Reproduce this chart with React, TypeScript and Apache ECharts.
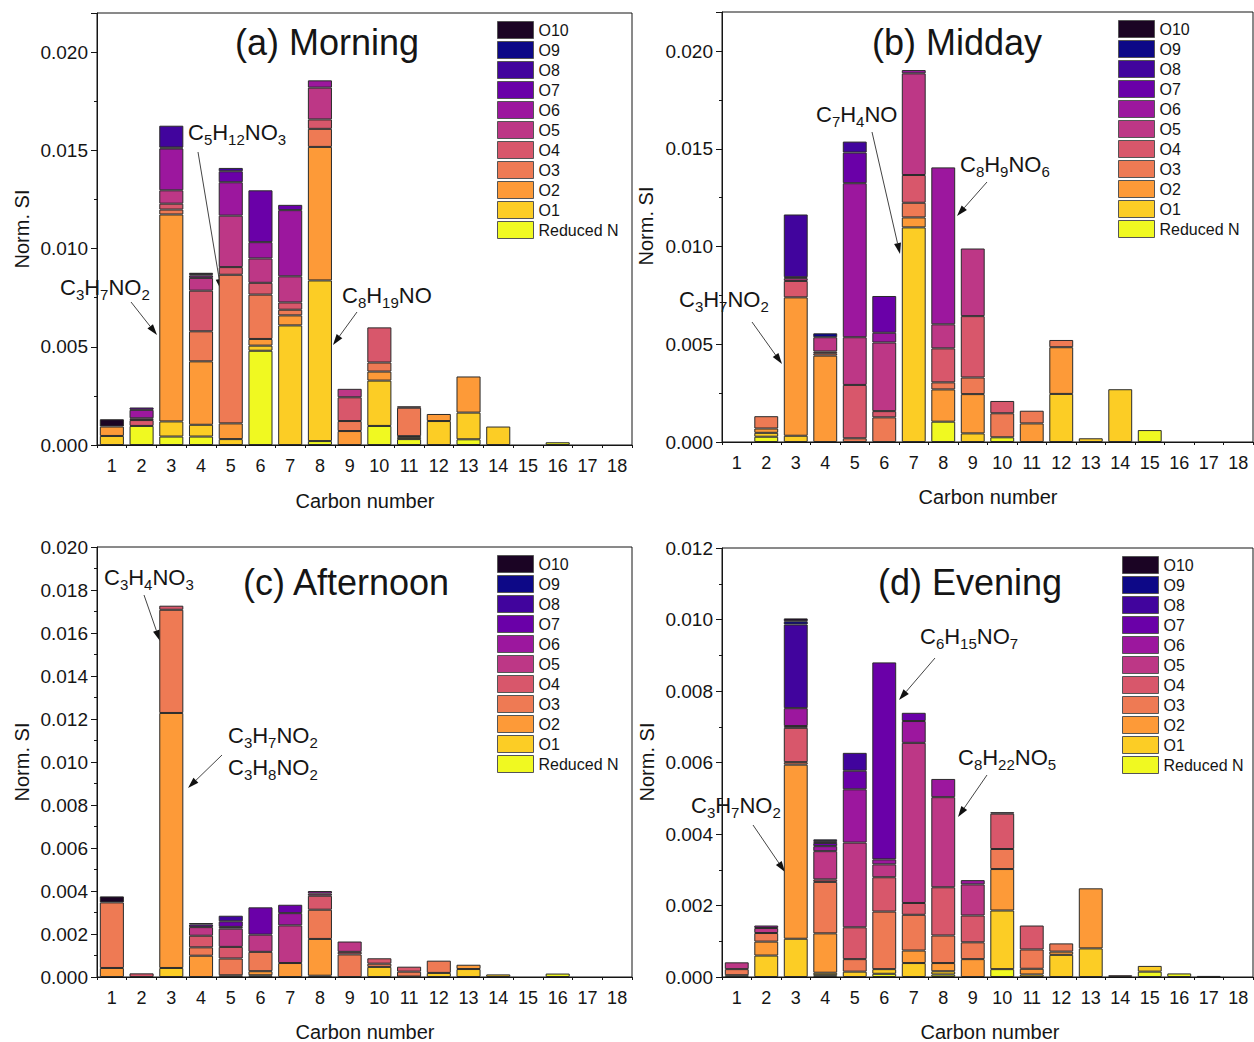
import React, { useEffect, useRef } from 'react';
import * as echarts from 'echarts';

const carbonNumbers = ['1','2','3','4','5','6','7','8','9','10','11','12','13','14','15','16','17','18'];
const seriesNames = ['Reduced N','O1','O2','O3','O4','O5','O6','O7','O8','O9','O10'];
const seriesColors = ['#f0f921','#fccd25','#fd9a38','#ee7a54','#d8576b','#bd3786','#9c179e','#6a00a8','#41049d','#0d0887','#1b0424'];

// (a) Morning
const morningRedN = [0,0.00097,0.00043,0.00043,0,0.0048,0,0.0002,0,0.00097,0.0003,0,0.00029,0,0,0.00014,0,0];
const morningO1 = [0.00046,0,0.00077,0.0006,0.0003,0.00026,0.00609,0.00818,0,0.00231,0.0001,0.00122,0.00136,0.00094,0,0,0,0];
const morningO2 = [0.00048,0,0.01054,0.00323,0.0008,0.00034,0.00051,0.0068,0.00071,0.00046,0.00005,0.00036,0.00184,0,0,0,0,0];
const morningO3 = [0,0,0.00025,0.00153,0.00757,0.00226,0.00029,0.00092,0.00051,0.00046,0.00145,0,0,0,0,0,0,0];
const morningO4 = [0,0.0003,0.0003,0.00207,0.00039,0.0006,0.00037,0.00048,0.00121,0.00179,0.00007,0,0,0,0,0,0,0];
const morningO5 = [0,0.00009,0.00068,0.00065,0.00262,0.00124,0.00133,0.00162,0.00043,0,0,0,0,0,0,0,0,0];
const morningO6 = [0,0.00043,0.00213,0.00012,0.0017,0.00083,0.00337,0.00037,0,0,0,0,0,0,0,0,0,0];
const morningO7 = [0,0.00012,0.00005,0.00007,0.00056,0.00264,0.00027,0,0,0,0,0,0,0,0,0,0,0];
const morningO8 = [0,0,0.00111,0,0.00017,0,0,0,0,0,0,0,0,0,0,0,0,0];
const morningO9 = [0,0,0,0,0,0,0,0,0,0,0,0,0,0,0,0,0,0];
const morningO10 = [0.00037,0,0,0.00007,0,0,0,0,0,0,0,0,0,0,0,0,0,0];

// (b) Midday
const middayRedN = [0,0.00027,0,0,0,0,0,0.00104,0,0.00024,0,0,0,0,0.00061,0,0,0];
const middayO1 = [0,0.0002,0.00032,0,0,0,0.01098,0,0.00044,0,0,0.00246,0.00019,0.0027,0,0,0,0];
const middayO2 = [0,0.00022,0.00708,0.00442,0,0,0.00051,0.00165,0.00201,0,0.00095,0.00239,0,0,0,0,0,0];
const middayO3 = [0,0.00063,0,0.00012,0.00019,0.00126,0.00075,0.00036,0.00085,0.00123,0.00065,0.00037,0,0,0,0,0,0];
const middayO4 = [0,0,0.00084,0.00009,0.00273,0.00032,0.00142,0.00174,0.00314,0.00063,0,0,0,0,0,0,0,0];
const middayO5 = [0,0,0.00014,0.00073,0.00244,0.00351,0.0052,0.00123,0.00346,0,0,0,0,0,0,0,0,0];
const middayO6 = [0,0,0.00005,0,0.00788,0.0005,0.00017,0.00803,0,0,0,0,0,0,0,0,0,0];
const middayO7 = [0,0,0,0,0.00157,0.00188,0,0,0,0,0,0,0,0,0,0,0,0];
const middayO8 = [0,0,0.00321,0,0.00056,0,0,0,0,0,0,0,0,0,0,0,0,0];
const middayO9 = [0,0,0,0.0002,0,0,0,0,0,0,0,0,0,0,0,0,0,0];
const middayO10 = [0,0,0,0,0,0,0,0,0,0,0,0,0,0,0,0,0,0];

// (c) Afternoon
const afternoonRedN = [0,0,0,0,0,0,0,0,0,0,0,0,0,0,0,0.00016,0,0];
const afternoonO1 = [0,0,0.00042,0,0,0.00008,0,0.00006,0,0.00047,0,0.00019,0.00037,0.00012,0,0,0,0];
const afternoonO2 = [0.00042,0,0.01186,0.00099,0.00008,0.00019,0.00065,0.00171,0,0,0.00002,0,0.0002,0,0,0,0,0];
const afternoonO3 = [0.00305,0,0.0048,0.00039,0.00078,0.0009,0,0.00136,0.00105,0.00015,0.00023,0.00057,0,0,0,0,0,0];
const afternoonO4 = [0,0.00017,0.00019,0.00054,0.00054,0,0,0.00065,0.00012,0.00025,0.00023,0,0,0,0,0,0,0];
const afternoonO5 = [0,0,0,0.0004,0.00085,0.0008,0.00175,0.0001,0.00048,0,0,0,0,0,0,0,0,0];
const afternoonO6 = [0,0,0,0,0.00008,0,0.00057,0.00012,0,0,0,0,0,0,0,0,0,0];
const afternoonO7 = [0,0,0,0.00012,0.00026,0.00127,0.00039,0,0,0,0,0,0,0,0,0,0,0];
const afternoonO8 = [0,0,0,0.00007,0.00026,0,0,0,0,0,0,0,0,0,0,0,0,0];
const afternoonO9 = [0,0,0,0,0,0,0,0,0,0,0,0,0,0,0,0,0,0];
const afternoonO10 = [0.00028,0,0,0,0,0,0,0,0,0,0,0,0,0,0,0,0,0];

// (d) Evening
const eveningRedN = [0,0,0,0.00005,0,0.00009,0,0.00007,0,0.00022,0,0,0,0,0.00015,0.0001,0,0];
const eveningO1 = [0.00005,0.0006,0.00107,0.00007,0.00015,0.00013,0.00039,0.00009,0,0.00164,0.00007,0.00062,0.0008,0,0.00016,0,0.00003,0];
const eveningO2 = [0,0.00039,0.00487,0.0011,0,0,0.00035,0.00023,0.0005,0.00116,0.00016,0.00009,0.00168,0,0,0,0,0];
const eveningO3 = [0.00017,0.00024,0.00007,0.00144,0.00035,0.00161,0.001,0.00077,0.00047,0.00056,0.00054,0.00023,0,0.00005,0,0,0,0];
const eveningO4 = [0,0,0.00096,0.00007,0.00089,0.00096,0.00033,0.00135,0.00075,0.00099,0.00067,0,0,0,0,0,0,0];
const eveningO5 = [0.00019,0.00014,0.00005,0.00079,0.00237,0.00036,0.00448,0.00252,0.00087,0.00004,0,0,0,0,0,0,0,0];
const eveningO6 = [0,0.00007,0.0005,0.00014,0.00149,0.00014,0.00061,0.00051,0.00012,0,0,0,0,0,0,0,0,0];
const eveningO7 = [0,0,0,0.00009,0.00052,0.00551,0.00023,0,0,0,0,0,0,0,0,0,0,0];
const eveningO8 = [0,0,0.00234,0.00005,0.0005,0,0,0,0,0,0,0,0,0,0,0,0,0];
const eveningO9 = [0,0,0.00009,0.00005,0,0,0,0,0,0,0,0,0,0,0,0,0,0];
const eveningO10 = [0,0,0.00008,0,0,0,0,0,0,0,0,0,0,0,0,0,0,0];

const morning = [morningRedN,morningO1,morningO2,morningO3,morningO4,morningO5,morningO6,morningO7,morningO8,morningO9,morningO10];
const midday = [middayRedN,middayO1,middayO2,middayO3,middayO4,middayO5,middayO6,middayO7,middayO8,middayO9,middayO10];
const afternoon = [afternoonRedN,afternoonO1,afternoonO2,afternoonO3,afternoonO4,afternoonO5,afternoonO6,afternoonO7,afternoonO8,afternoonO9,afternoonO10];
const evening = [eveningRedN,eveningO1,eveningO2,eveningO3,eveningO4,eveningO5,eveningO6,eveningO7,eveningO8,eveningO9,eveningO10];

const panelTitles = ['(a) Morning', '(b) Midday', '(c) Afternoon', '(d) Evening'];
const yAxisMax = [0.022, 0.022, 0.020, 0.012];
const yAxisStep = [0.005, 0.005, 0.002, 0.002];
const xAxisName = 'Carbon number';
const yAxisName = 'Norm. SI';

const FONT = '"Liberation Sans", Arial, sans-serif';
const INK = '#151515';

function formulaText(f: string, x: number, cy: number) {
  let rich = '';
  const re = /([A-Za-z]+)|(\d+)/g;
  let m: RegExpExecArray | null;
  while ((m = re.exec(f))) {
    if (m[1]) rich += '{m|' + m[1] + '}';
    else rich += '{s|' + m[2] + '}';
  }
  return {
    type: 'text', x, y: cy - 15, silent: true,
    style: {
      text: rich, align: 'left', verticalAlign: 'top', fill: INK,
      rich: {
        m: { fontSize: 22, fontFamily: FONT, lineHeight: 30, fill: INK },
        s: { fontSize: 15, fontFamily: FONT, lineHeight: 30, fill: INK, verticalAlign: 'bottom' },
      },
    },
  };
}

function arrow(x1: number, y1: number, x2: number, y2: number) {
  const ang = Math.atan2(y2 - y1, x2 - x1);
  const L = 11, W = 3.5;
  const bx = x2 - L * Math.cos(ang), by = y2 - L * Math.sin(ang);
  const px = -Math.sin(ang) * W, py = Math.cos(ang) * W;
  return [
    { type: 'line', silent: true, shape: { x1, y1, x2: bx, y2: by }, style: { stroke: '#444', lineWidth: 1 } },
    { type: 'polygon', silent: true, shape: { points: [[x2, y2], [bx + px, by + py], [bx - px, by - py]] }, style: { fill: '#111' } },
  ];
}

function plainText(text: string, x: number, y: number, size: number, align = 'center', rotation = 0) {
  return {
    type: 'text', x, y, rotation, silent: true,
    style: { text, fontSize: size, fontFamily: FONT, fill: INK, align, verticalAlign: 'middle' },
  };
}

export default function App() {
  const ref = useRef<HTMLDivElement>(null);
  useEffect(() => {
    if (!ref.current) return;
    const chart = echarts.init(ref.current, undefined, { renderer: 'svg' });
    const panelData = [morning, midday, afternoon, evening];
    const grids = [
      { left: 97, top: 13, width: 535, height: 432 },
      { left: 722, top: 12, width: 531, height: 430 },
      { left: 97, top: 547, width: 535, height: 430 },
      { left: 722, top: 548, width: 531, height: 429 },
    ];
    const legendPos = [[497, 21], [1118, 20], [497, 555], [1122, 556]];
    const titlePos = [[327, 42], [957, 42], [346, 582], [970, 582]];
    const yNamePos = [[22, 229], [646, 226], [22, 762], [647, 762]];
    const xNamePos = [[365, 501], [988, 497], [365, 1032], [990, 1032]];
    const legendOrder = [...seriesNames].reverse();

    const xAxes: any[] = [];
    const yAxes: any[] = [];
    const series: any[] = [];
    const legends: any[] = [];
    const graphics: any[] = [];

    panelData.forEach((pd, p) => {
      xAxes.push({
        type: 'category', gridIndex: p, data: carbonNumbers, position: 'bottom',
        axisLine: { lineStyle: { color: INK, width: 1 } },
        axisTick: { alignWithLabel: true, length: 6, lineStyle: { color: INK } },
        axisLabel: { interval: 0, fontSize: 18, fontFamily: FONT, color: INK, margin: 12 },
        splitLine: { show: false },
      });
      xAxes.push({
        type: 'value', gridIndex: p, min: 0.5, max: 18.5, interval: 1, position: 'bottom',
        axisLine: { show: false },
        axisTick: { show: true, length: 3, lineStyle: { color: INK } },
        axisLabel: { show: false },
        splitLine: { show: false },
      });
      yAxes.push({
        type: 'value', gridIndex: p, min: 0, max: yAxisMax[p], interval: yAxisStep[p],
        axisLine: { show: true, lineStyle: { color: INK, width: 1 } },
        axisTick: { show: true, length: 6, lineStyle: { color: INK } },
        minorTick: { show: true, splitNumber: 2, length: 3, lineStyle: { color: INK } },
        axisLabel: {
          fontSize: 19, fontFamily: FONT, color: INK, margin: 9,
          showMaxLabel: p < 2 ? false : true,
          formatter: (v: number) => v.toFixed(3),
        },
        splitLine: { show: false },
      });
      pd.forEach((arr, s) => {
        series.push({
          type: 'bar', name: seriesNames[s], stack: 'panel' + p,
          xAxisIndex: 2 * p, yAxisIndex: p, barWidth: '81%',
          data: arr.map((v) => (v === 0 ? '-' : v)),
          itemStyle: { color: seriesColors[s], borderColor: '#2b2b2b', borderWidth: 1 },
        });
      });
      legends.push({
        orient: 'vertical', left: legendPos[p][0], top: legendPos[p][1], padding: 0,
        itemWidth: 36, itemHeight: 17, itemGap: 2, icon: 'rect', selectedMode: false,
        itemStyle: { borderColor: '#555', borderWidth: 1 },
        data: legendOrder, textStyle: { fontSize: 16, fontFamily: FONT, color: INK },
      });
      graphics.push(plainText(panelTitles[p], titlePos[p][0], titlePos[p][1], 36));
      graphics.push(plainText(yAxisName, yNamePos[p][0], yNamePos[p][1], 20, 'center', Math.PI / 2));
      graphics.push(plainText(xAxisName, xNamePos[p][0], xNamePos[p][1], 20));
    });

    const notes: [string, number, number][] = [
      ['C3H7NO2', 60, 287], ['C5H12NO3', 188, 132], ['C8H19NO', 342, 295],
      ['C7H4NO', 816, 114], ['C8H9NO6', 960, 164], ['C3H7NO2', 679, 299],
      ['C3H4NO3', 104, 577], ['C3H7NO2', 228, 735], ['C3H8NO2', 228, 767],
      ['C3H7NO2', 691, 805], ['C6H15NO7', 920, 636], ['C8H22NO5', 958, 757],
    ];
    notes.forEach(([f, x, y]) => graphics.push(formulaText(f, x, y)));
    const arrows: [number, number, number, number][] = [
      [131, 302, 157, 335], [198, 152, 221, 290], [357, 312, 333, 345],
      [872, 132, 900, 254], [987, 182, 957, 216], [752, 322, 782, 364],
      [144, 595, 160, 641], [222, 755, 188, 788],
      [753, 825, 785, 872], [935, 658, 899, 700], [987, 775, 958, 817],
    ];
    arrows.forEach(([a, b, c, d]) => graphics.push(...arrow(a, b, c, d)));

    chart.setOption({
      animation: false,
      backgroundColor: '#ffffff',
      grid: grids.map((g) => ({ ...g, show: true, borderColor: INK, borderWidth: 1, backgroundColor: 'transparent', containLabel: false })),
      xAxis: xAxes,
      yAxis: yAxes,
      legend: legends,
      series,
      graphic: graphics,
    });
    return () => chart.dispose();
  }, []);
  return <div ref={ref} style={{ position: 'absolute', left: 0, top: 0, width: 1254, height: 1042, background: '#fff' }} />;
}
